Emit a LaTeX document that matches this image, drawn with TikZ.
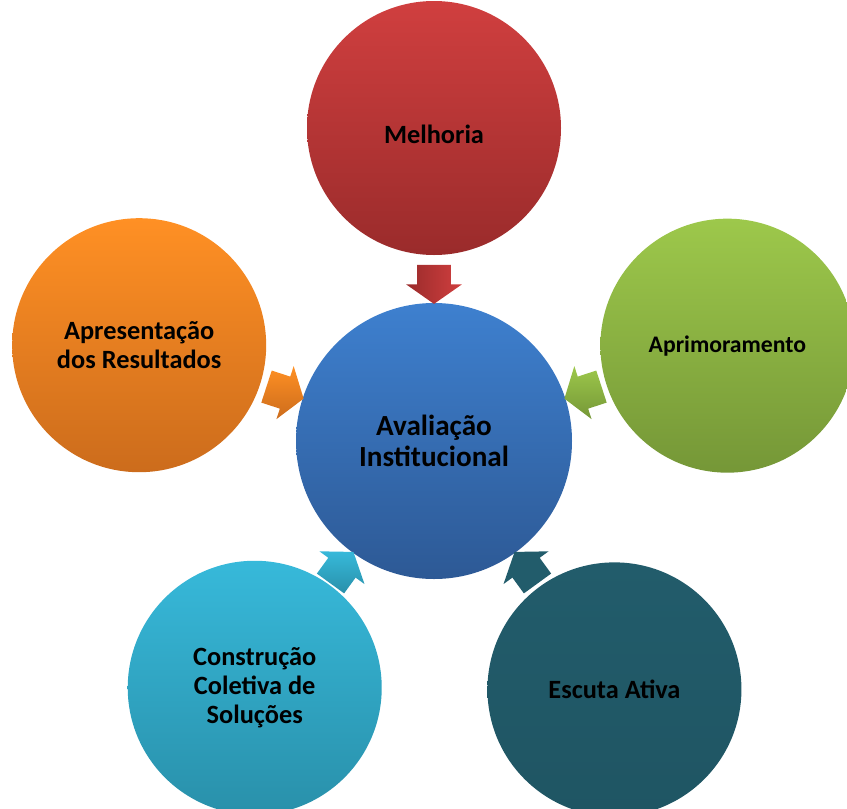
\documentclass[tikz,border=0pt]{standalone}
\usepackage{fontspec}
\setmainfont{Carlito}
\usetikzlibrary{shapes.arrows, calc, positioning}

% colours of the bubbles (top / bottom of the gradient)
\definecolor{melTop}{HTML}{D03F3F}
\definecolor{melBot}{HTML}{9A2B2B}
\definecolor{aprTop}{HTML}{9DC84B}
\definecolor{aprBot}{HTML}{759737}
\definecolor{resTop}{HTML}{FF9024}
\definecolor{resBot}{HTML}{CC6C1C}
\definecolor{conTop}{HTML}{37B9DA}
\definecolor{conBot}{HTML}{2990AA}
\definecolor{escTop}{HTML}{225C6B}
\definecolor{escBot}{HTML}{1F5563}
\definecolor{avaTop}{HTML}{3E80CF}
\definecolor{avaBot}{HTML}{2D5995}

\begin{document}
\begin{tikzpicture}[
    bubble/.style={circle, minimum size=5.08cm, inner sep=0pt, align=center,
        font=\bfseries\fontsize{15}{16.4}\selectfont},
    pointer/.style={single arrow, minimum height=0.78cm, minimum width=0pt,
        single arrow head extend=0.22cm, single arrow tip angle=110, inner sep=0pt}
]
    \useasboundingbox (0,0) rectangle (16.94,-16.16);
    \clip (0,0) rectangle (16.94,-16.16);
    % central bubble
    \node[bubble, minimum size=5.52cm, top color=avaTop, bottom color=avaBot,
        font=\bfseries\fontsize{16.6}{17.6}\selectfont] (aval) at (8.68,-8.82) {Avaliação\\Institucional};
    % outer bubbles, on a pentagon round the centre
    \node[bubble, top color=melTop, bottom color=melBot] (mel) at ($(aval)+(90:6.26)$) {\raisebox{-0.3cm}[0pt][0pt]{Melhoria}};
    \node[bubble, top color=aprTop, bottom color=aprBot,
        font=\bfseries\fontsize{13.5}{15}\selectfont] (apr) at ($(aval)+(18:6.17)$) {Aprimoramento};
    \node[bubble, top color=resTop, bottom color=resBot] (res) at ($(aval)+(162:6.2)$) {Apresentação\\dos Resultados};
    \node[bubble, top color=conTop, bottom color=conBot] (con) at ($(aval)+(234:6.1)$) {Construção\\Coletiva de\\Soluções};
    \node[bubble, top color=escTop, bottom color=escBot] (esc) at ($(aval)+(306:6.14)$) {Escuta Ativa};
    % block arrows pointing at the centre
    \node[pointer, rotate=-90, left color=melBot, right color=melTop] (pMel) at ($(aval)!3.25cm!(mel)$) {\rule{0pt}{0.66cm}};
    \node[pointer, rotate=198, top color=aprTop, bottom color=aprBot] (pApr) at ($(aval)!3.25cm!(apr)$) {\rule{0pt}{0.66cm}};
    \node[pointer, rotate=-18, top color=resTop, bottom color=resBot] (pRes) at ($(aval)!3.25cm!(res)$) {\rule{0pt}{0.66cm}};
    \node[pointer, rotate=54, top color=conTop, bottom color=conBot] (pCon) at ($(aval)!3.25cm!(con)$) {\rule{0pt}{0.66cm}};
    \node[pointer, rotate=126, fill=escTop] (pEsc) at ($(aval)!3.25cm!(esc)$) {\rule{0pt}{0.66cm}};
\end{tikzpicture}
\end{document}
